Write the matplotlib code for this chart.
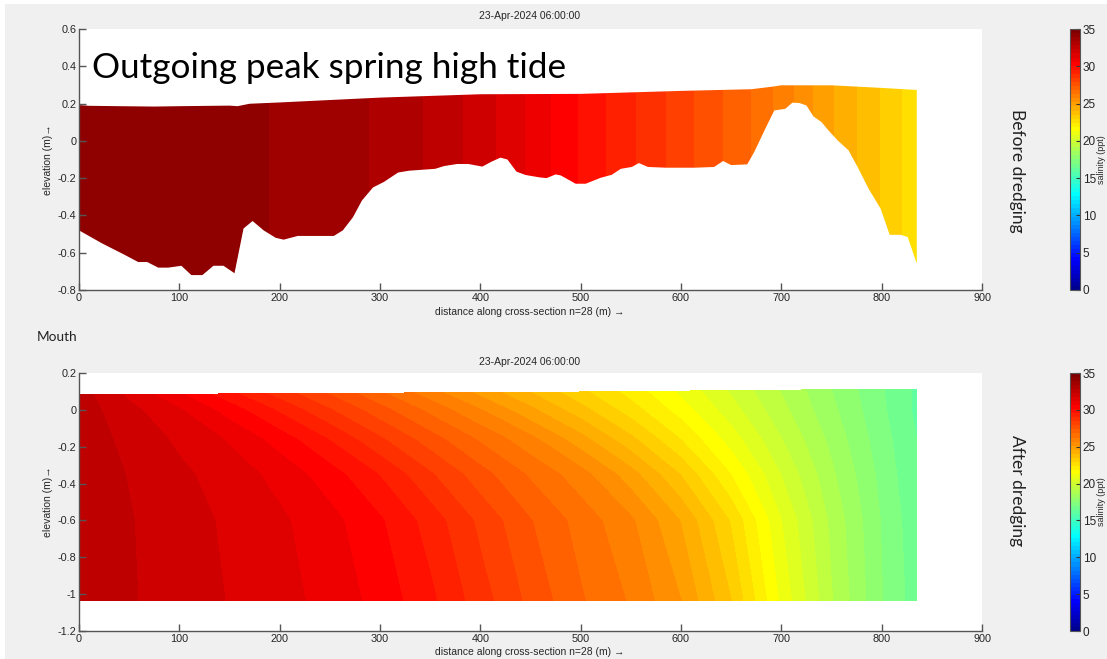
import numpy as np
import matplotlib
matplotlib.use("Agg")
import matplotlib.pyplot as plt
from matplotlib.colors import ListedColormap, Normalize
from matplotlib.patches import Polygon, Rectangle
from matplotlib.cm import ScalarMappable

plt.rcParams['axes.unicode_minus'] = False

# ---------------- data ----------------
# Top panel (before dredging): bed profile, water surface, salinity along section
x_bed = [0, 23, 45, 59, 68, 79, 89, 102, 112, 123, 134, 144, 155, 164, 173, 184, 196, 204,
         218, 230, 243, 254, 263, 273, 282, 293, 304, 318, 329, 355, 364, 377, 388, 402, 411,
         420, 427, 436, 445, 459, 466, 475, 480, 495, 505, 520, 531, 540, 551, 558, 567, 585,
         614, 633, 642, 650, 666, 673, 684, 693, 704, 711, 718, 725, 732, 740, 747, 756, 767,
         776, 787, 799, 808, 819, 826, 835]
z_bed = [-0.48, -0.55, -0.61, -0.65, -0.65, -0.68, -0.68, -0.67, -0.72, -0.72, -0.67, -0.67,
         -0.71, -0.47, -0.43, -0.48, -0.52, -0.53, -0.51, -0.51, -0.51, -0.51, -0.48, -0.41,
         -0.32, -0.25, -0.22, -0.17, -0.16, -0.15, -0.135, -0.124, -0.124, -0.138, -0.112,
         -0.09, -0.10, -0.165, -0.183, -0.196, -0.2, -0.18, -0.185, -0.23, -0.23, -0.198,
         -0.182, -0.15, -0.14, -0.119, -0.14, -0.144, -0.144, -0.14, -0.108, -0.13, -0.126,
         -0.06, 0.065, 0.163, 0.172, 0.205, 0.203, 0.19, 0.131, 0.101, 0.056, 0.003, -0.051,
         -0.14, -0.257, -0.364, -0.504, -0.504, -0.516, -0.659]
x_surf = [0, 10, 40, 75, 100, 150, 158, 170, 200, 300, 400, 500, 600, 670, 690, 700, 750, 800, 835]
z_surf = [0.192, 0.188, 0.186, 0.184, 0.186, 0.189, 0.186, 0.199, 0.206, 0.232, 0.250, 0.252,
          0.268, 0.277, 0.290, 0.298, 0.298, 0.284, 0.273]
x_sal_top = [0, 193, 291, 344, 383, 416, 445, 471, 498, 526, 555, 585, 614, 642, 670, 692,
             713, 732, 753, 776, 799, 821, 835]
sal_top = [34.20, 33.90, 33.35, 32.80, 32.26, 31.71, 31.16, 30.62, 30.07, 29.52, 28.98, 28.43,
           27.88, 27.34, 26.79, 26.24, 25.70, 25.15, 24.60, 24.05, 23.51, 22.96, 22.60]

# Bottom panel (after dredging): salinity on a grid (columns along x, rows in depth)
x_bot = [0, 50, 100, 150, 200, 250, 300, 350, 400, 450, 500, 550, 600, 650, 700, 750, 800, 835]
surf_bot = [0.082, 0.082, 0.083, 0.087, 0.087, 0.091, 0.091, 0.092, 0.094, 0.095, 0.097, 0.099,
            0.102, 0.104, 0.107, 0.109, 0.111, 0.111]
bed_bot = -1.033
z_rows_bot = [-0.6, -0.35, -0.16, 0.0]   # interior depth rows (bed row below, surface row above)
sal_bed = [32.59, 32.32, 32.01, 31.69, 31.37, 30.98, 30.42, 29.66, 28.68, 27.73, 26.86, 26.18,
           25.16, 23.52, 21.19, 19.18, 17.53, 16.66]
sal_m060 = [32.59, 32.30, 31.96, 31.62, 31.27, 30.81, 30.15, 29.29, 28.30, 27.37, 26.58, 25.80,
            24.58, 22.90, 20.79, 19.00, 17.46, 16.57]
sal_m035 = [32.58, 32.24, 31.84, 31.45, 30.99, 30.33, 29.50, 28.51, 27.57, 26.71, 25.93, 24.85,
            23.48, 21.86, 20.21, 18.71, 17.32, 16.46]
sal_m016 = [32.57, 32.12, 31.61, 31.11, 30.38, 29.50, 28.53, 27.60, 26.71, 25.87, 24.83, 23.66,
            22.41, 21.06, 19.71, 18.43, 17.18, 16.41]
sal_000 = [32.57, 31.89, 31.22, 30.37, 29.43, 28.48, 27.55, 26.64, 25.73, 24.74, 23.72, 22.68,
           21.61, 20.46, 19.31, 18.18, 17.06, 16.28]
sal_surf = [32.54, 31.60, 30.72, 29.70, 28.76, 27.82, 26.89, 25.95, 25.00, 24.06, 23.12, 22.20,
            21.20, 20.15, 19.10, 18.05, 17.00, 16.29]

x_ticks = [0, 100, 200, 300, 400, 500, 600, 700, 800, 900]
y_ticks_top = [-0.8, -0.6, -0.4, -0.2, 0, 0.2, 0.4, 0.6]
y_labels_top = ['-0.8', '-0.6', '-0.4', '-0.2', '0', '0.2', '0.4', '0.6']
y_ticks_bot = [-1.2, -1.0, -0.8, -0.6, -0.4, -0.2, 0, 0.2]
y_labels_bot = ['-1.2', '-1', '-0.8', '-0.6', '-0.4', '-0.2', '0', '0.2']
cb_ticks = [0, 5, 10, 15, 20, 25, 30, 35]
title_txt = '23-Apr-2024 06:00:00'
xlabel_txt = 'distance along cross-section n=28 (m) \u2192'
ylabel_txt = 'elevation (m)\u2192'

# ---------------- colormap (MATLAB jet, 64 colours) ----------------
def matlab_jet(m=64):
    n = int(np.ceil(m / 4))
    u = np.concatenate([np.arange(1, n + 1) / n, np.ones(n - 1), np.arange(n, 0, -1) / n])
    g = int(np.ceil(n / 2)) - (1 if m % 4 == 1 else 0) + np.arange(1, len(u) + 1)
    r = g + n
    b = g - n
    J = np.zeros((m, 3))
    for col, idxs in ((0, r), (1, g), (2, b)):
        for i, v in zip(idxs, u):
            if 1 <= i <= m:
                J[i - 1, col] = v
    return J

cmap = ListedColormap(matlab_jet(64))
norm = Normalize(0, 35)
levels = np.linspace(0, 35, 65)

W, H = 1107, 659
fig = plt.figure(figsize=(W / 100, H / 100), dpi=100)
fig.patch.set_facecolor('white')
fig.patches.append(Rectangle((5 / W, 0), 1, 1 - 4 / H, transform=fig.transFigure,
                             facecolor='#f0f0f0', edgecolor='none', zorder=-10))

NARROW = ['Liberation Sans Narrow', 'Liberation Sans', 'DejaVu Sans']
TXT = '#262626'

ax1 = fig.add_axes([79 / W, 1 - 290 / H, 903 / W, 261 / H])
ax2 = fig.add_axes([79 / W, 1 - 631 / H, 903 / W, 258 / H])
cax1 = fig.add_axes([1070 / W, 1 - 290 / H, 10 / W, 261 / H])
cax2 = fig.add_axes([1070 / W, 1 - 631 / H, 10 / W, 258 / H])

# --- top panel ---
Xg, Zg = np.meshgrid(x_sal_top, [-0.8, 0.4])
Sg = np.vstack([sal_top, sal_top])
cs1 = ax1.contourf(Xg, Zg, Sg, levels=levels, cmap=cmap, norm=norm)
poly_x = np.r_[x_surf, x_bed[::-1]]
poly_z = np.r_[z_surf, z_bed[::-1]]
poly = Polygon(np.column_stack([poly_x, poly_z]), closed=True, facecolor='none',
               edgecolor='none', transform=ax1.transData)
ax1.add_patch(poly)
cs1.set_clip_path(poly)

# --- bottom panel ---
n = len(x_bot)
Xb = np.tile(np.asarray(x_bot, float), (6, 1))
Zb = np.vstack([np.full(n, bed_bot)] + [np.full(n, z) for z in z_rows_bot] + [surf_bot])
Sb = np.vstack([sal_bed, sal_m060, sal_m035, sal_m016, sal_000, sal_surf])
ax2.contourf(Xb, Zb, Sb, levels=levels, cmap=cmap, norm=norm)

for ax, yt, yl, ylim in ((ax1, y_ticks_top, y_labels_top, (-0.8, 0.6)),
                         (ax2, y_ticks_bot, y_labels_bot, (-1.2, 0.2))):
    ax.set_xlim(0, 900)
    ax.set_ylim(*ylim)
    ax.set_xticks(x_ticks)
    ax.set_xticklabels([str(v) for v in x_ticks])
    ax.set_yticks(yt)
    ax.set_yticklabels(yl)
    ax.set_facecolor('white')
    for s in ('top', 'right'):
        ax.spines[s].set_visible(False)
    for s in ('left', 'bottom'):
        ax.spines[s].set_color('#555555')
        ax.spines[s].set_linewidth(1.0)
    ax.tick_params(direction='in', length=5, width=1.0, color='#555555',
                   labelsize=7.8, labelcolor=TXT, pad=2)
    for lab in ax.get_xticklabels() + ax.get_yticklabels():
        lab.set_family(NARROW)

for cax in (cax1, cax2):
    sm = ScalarMappable(norm=norm, cmap=cmap)
    cb = fig.colorbar(sm, cax=cax, ticks=cb_ticks)
    cb.outline.set_edgecolor('#555555')
    cb.outline.set_linewidth(0.8)
    cax.tick_params(direction='in', length=3, width=0.8, color='#333333',
                    labelsize=8.5, labelcolor=TXT, pad=2)
    for lab in cax.get_yticklabels():
        lab.set_family(NARROW)

# --- texts ---
for yc_title, yc_xl, yc_yl, yc_cb in ((16, 312, 160, 160), (362, 652, 502, 502)):
    fig.text(530 / W, 1 - yc_title / H, title_txt, ha='center', va='center',
             fontsize=7.5, color=TXT, family=NARROW)
    fig.text(530 / W, 1 - yc_xl / H, xlabel_txt, ha='center', va='center',
             fontsize=7.5, color=TXT, family=NARROW)
    fig.text(48 / W, 1 - yc_yl / H, ylabel_txt, ha='center', va='center', rotation=90,
             fontsize=7.5, color=TXT, family=NARROW)
    fig.text(1101 / W, 1 - yc_cb / H, 'salinity (ppt)', ha='center', va='center',
             rotation=90, fontsize=6.5, color=TXT, family=NARROW)

fig.text(92 / W, 1 - 68 / H, 'Outgoing peak spring high tide', ha='left', va='center',
         fontsize=25.3, color='black', family=['Lato', 'DejaVu Sans'])
fig.text(37 / W, 1 - 337 / H, 'Mouth', ha='left', va='center', fontsize=9.8,
         color='#222222', family=['Lato', 'DejaVu Sans'])
fig.text(1017 / W, 1 - 171 / H, 'Before dredging', ha='center', va='center', rotation=-90,
         fontsize=12.5, color='#222222', family=['Lato', 'DejaVu Sans'])
fig.text(1017 / W, 1 - 491 / H, 'After dredging', ha='center', va='center', rotation=-90,
         fontsize=12.5, color='#222222', family=['Lato', 'DejaVu Sans'])

fig.savefig('out.png', dpi=100, facecolor=fig.get_facecolor())
